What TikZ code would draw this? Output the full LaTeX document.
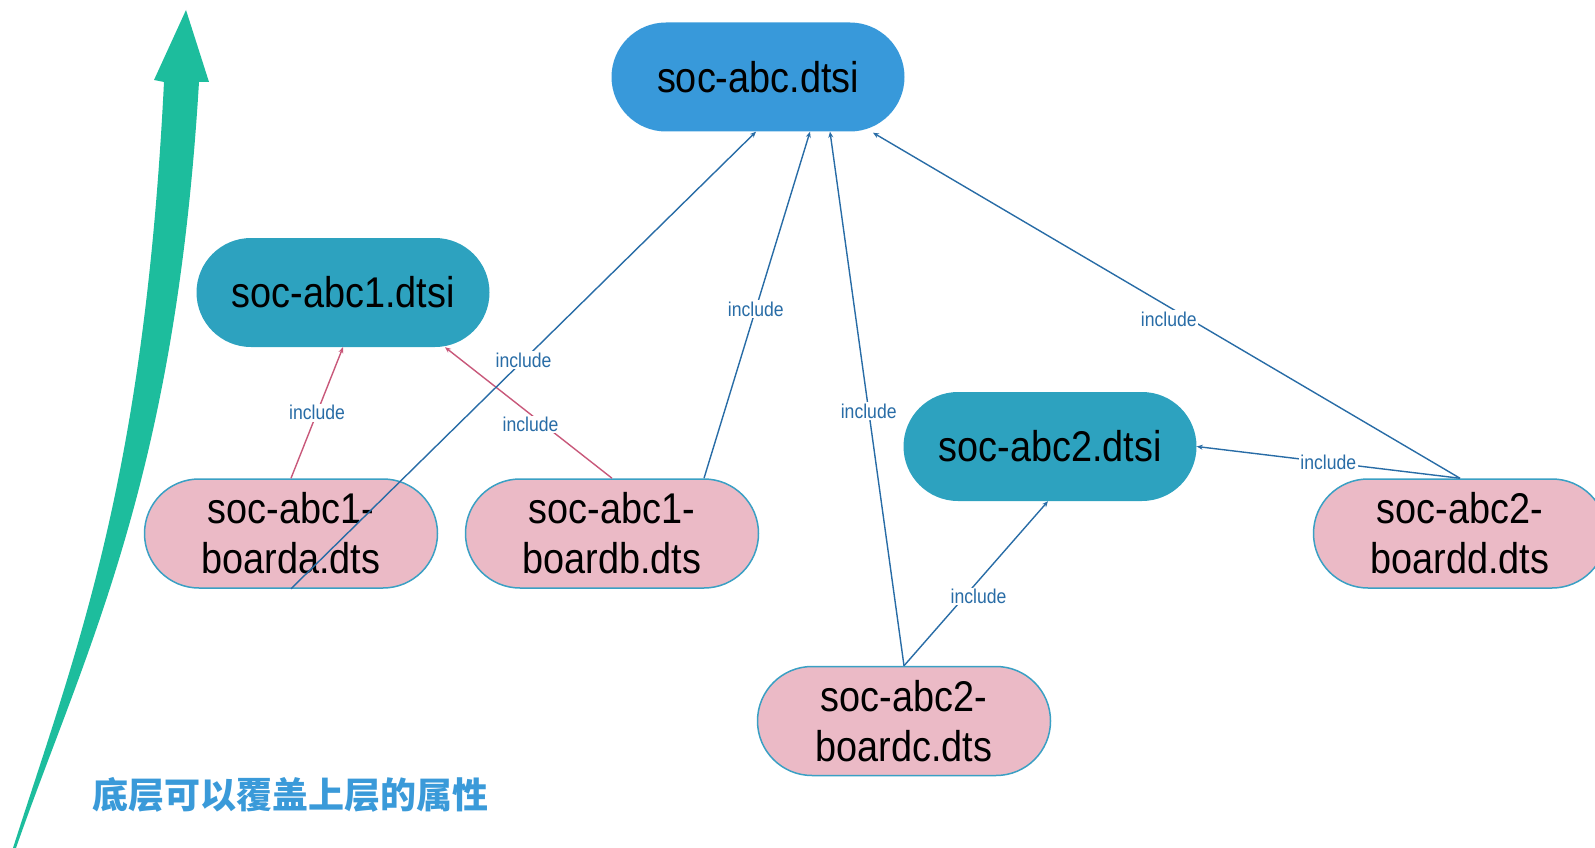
\documentclass[tikz,border=0pt]{standalone}
\usepackage{fontspec}
\setmainfont{Liberation Sans}[FakeStretch=0.88]
\newfontfamily\cjk{Noto Sans CJK SC}
\usetikzlibrary{shapes.misc,arrows.meta}

\definecolor{topblue}{RGB}{56,153,218}
\definecolor{midteal}{RGB}{45,162,191}
\definecolor{boardpink}{RGB}{235,186,198}
\definecolor{boardedge}{RGB}{58,160,196}
\definecolor{linkblue}{RGB}{40,108,166}
\definecolor{linkpink}{RGB}{200,88,122}
\definecolor{arrowgreen}{RGB}{29,189,157}
\definecolor{notecolor}{RGB}{58,154,217}

\tikzset{
  dtsibox/.style={rounded rectangle, minimum width=293pt, minimum height=109pt,
    inner sep=0pt, text=black, align=center, font=\fontsize{43}{50}\selectfont},
  boardbox/.style={dtsibox, fill=boardpink, draw=boardedge, line width=1.5pt},
  link/.style={draw=linkblue, line width=1.4pt, -{Stealth[length=6pt,width=5pt]}},
  pinklink/.style={link, draw=linkpink},
  inc/.style={fill=white, text=linkblue, inner sep=1.5pt, font=\fontsize{20}{22}\selectfont},
}

\begin{document}
\begin{tikzpicture}[x=1pt, y=-1pt]
\useasboundingbox (0,0) rectangle (1595,848);

% rising arrow on the left
\fill[arrowgreen] (13,848) .. controls (77,648) and (144,482) .. (164,82)
  -- (154,80) -- (186,10) -- (209,82) -- (199,82)
  .. controls (175,482) and (86,648) .. (16,848) -- cycle;

\node[text=notecolor, font=\cjk\bfseries\fontsize{36}{40}\selectfont] (note) at (290,795) {底层可以覆盖上层的属性};

% include files
\node[dtsibox, fill=topblue] (abc) at (758,77) {soc-abc.dtsi};
\node[dtsibox, fill=midteal] (abc1) at (343,292.5) {soc-abc1.dtsi};
\node[dtsibox, fill=midteal] (abc2) at (1050,446.5) {soc-abc2.dtsi};

% board files
\node[boardbox] (boarda) at (291,533.5) {soc-abc1-\\boarda.dts};
\node[boardbox] (boardb) at (612,533.5) {soc-abc1-\\boardb.dts};
\node[boardbox] (boardc) at (904,721) {soc-abc2-\\boardc.dts};
\node[boardbox] (boardd) at (1460,533.5) {soc-abc2-\\boardd.dts};

% include relations
\draw[pinklink] (boarda.north) -- node[inc, pos=0.5] {include} (abc1.south);
\draw[pinklink] (boardb.north) -- node[inc, pos=0.41, xshift=-13pt] {include} ([xshift=102pt]abc1.south);
\draw[link] (boarda.south) -- node[inc, pos=0.5] {include} ([xshift=-2pt]abc.south);
\draw[link] ([xshift=92pt]boardb.north) -- node[inc, pos=0.488] {include} ([xshift=52pt]abc.south);
\draw[link] (boardc.north) -- node[inc, pos=0.477] {include} ([xshift=72pt]abc.south);
\draw[link] (boardc.north) -- node[inc, pos=0.42, xshift=14pt] {include} ([xshift=-2pt]abc2.south);
\draw[link] (boardd.north) -- node[inc, pos=0.474, xshift=-13pt, yshift=-4.5pt] {include} ([xshift=115pt,yshift=-1pt]abc.south);
\draw[link] (boardd.north) -- node[inc, pos=0.5] {include} (abc2.east);
\end{tikzpicture}
\end{document}
